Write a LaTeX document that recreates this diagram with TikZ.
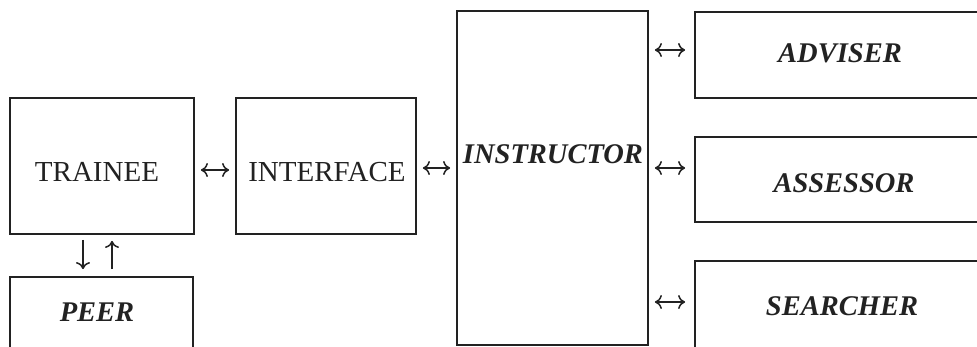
\documentclass[tikz,border=0pt]{standalone}
\usepackage{fontspec}
\setmainfont{Liberation Serif}
\usetikzlibrary{arrows.meta}
\definecolor{ink}{HTML}{222222}
\begin{document}
\begin{tikzpicture}[x=1pt,y=-1pt,
  box/.style={draw=ink,line width=1.8pt,inner sep=0pt},
  plain/.style={text=ink,inner sep=0pt,font=\fontsize{29}{34}\selectfont},
  role/.style={text=ink,inner sep=0pt,font=\fontsize{28.5}{34}\selectfont\bfseries\itshape},
  tip/.tip={Computer Modern Rightarrow[length=7pt,width=14pt]},
  link/.style={draw=ink,line width=1.5pt,tip-tip,shorten <=6pt,shorten >=6pt},
  oneway/.style={draw=ink,line width=1.5pt,-tip,shorten <=5pt,shorten >=6pt}]
\useasboundingbox (0,0) rectangle (977,346);
\fill[white] (0,0) rectangle (977,346);
\clip (0,0) rectangle (977,346);

% boxes
\node[box,minimum width=184pt,minimum height=136pt] (trainee)   at (102,166) {};
\node[box,minimum width=180pt,minimum height=136pt] (interface) at (326,166) {};
\node[box,minimum width=191pt,minimum height=334pt] (instructor) at (552.5,178) {};
\node[box,minimum width=295pt,minimum height=86pt]  (adviser)   at (842.5,55) {};
\node[box,minimum width=295pt,minimum height=85pt]  (assessor)  at (842.5,179.5) {};
\node[box,minimum width=295pt,minimum height=139pt] (searcher)  at (842.5,330.5) {};
\node[box,minimum width=183pt,minimum height=123pt] (peer)      at (101.5,338.5) {};

% labels
\node[plain] (traineeL)   at (97,172)  {TRAINEE};
\node[plain] (interfaceL) at (327,172) {INTERFACE};
\node[role]  (instructorL) at (553,154) {INSTRUCTOR};
\node[role]  (adviserL)   at (840,53)  {ADVISER};
\node[role]  (assessorL)  at (844,183) {ASSESSOR};
\node[role]  (searcherL)  at (842,306) {SEARCHER};
\node[role]  (peerL)      at (97,312)  {PEER};

% connectors
\draw[link] (trainee.east |- 0,170) -- (interface.west |- 0,170);
\draw[link] (interface.east |- 0,168) -- (instructor.west |- 0,168);
\draw[link,shorten >=9pt] (instructor.east |- 0,50) -- (adviser.west |- 0,50);
\draw[link,shorten >=9pt] (instructor.east |- 0,168) -- (assessor.west |- 0,168);
\draw[link,shorten >=9pt] (instructor.east |- 0,302) -- (searcher.west |- 0,302);
\draw[oneway,shorten >=7pt] (trainee.south -| 83,0) -- (peer.north -| 83,0);
\draw[oneway,shorten <=7pt] (peer.north -| 112,0) -- (trainee.south -| 112,0);
\end{tikzpicture}
\end{document}
